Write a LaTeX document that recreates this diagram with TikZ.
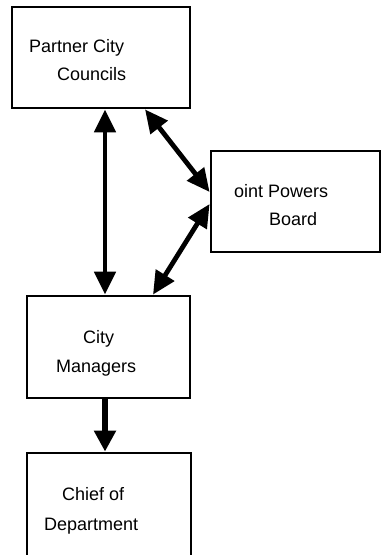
\documentclass[tikz,border=0pt]{standalone}
\usepackage{fontspec}
\setmainfont{Liberation Sans}
\usetikzlibrary{arrows.meta}

\begin{document}
\begin{tikzpicture}[
            x=1pt, y=-1pt,
            box/.style={draw, line width=2.8pt, inner sep=0pt},
            txt/.style={anchor=base west, inner sep=0pt, font=\fontsize{18}{21}\selectfont},
            link/.style={line width=4.8pt, {Triangle[length=23pt,width=21pt]}-{Triangle[length=23pt,width=21pt]}},
            down/.style={line width=6pt, -{Triangle[length=21pt,width=21pt]}},
        ]
            \useasboundingbox (0,0) rectangle (382,555);
            \clip (0,0) rectangle (382,555);
            % the four boxes
            \node [box, minimum width=178pt, minimum height=101pt] (pcc) at (101,57.5) {};
            \node [box, minimum width=169pt, minimum height=101pt] (jpb) at (295.5,201.5) {};
            \node [box, minimum width=163pt, minimum height=102pt] (cm) at (108.5,347) {};
            \node [box, minimum width=164pt, minimum height=122pt] (cd) at (109,514) {};
            % labels, one line each
            \node [txt] (pcc-1) at (29,52) {Partner City};
            \node [txt] (pcc-2) at (57,80) {Councils};
            \node [txt] (jpb-1) at (234,197) {oint Powers};
            \node [txt] (jpb-2) at (269,225) {Board};
            \node [txt] (cm-1) at (83,343) {City};
            \node [txt] (cm-2) at (56,372) {Managers};
            \node [txt] (cd-1) at (62,500) {Chief of};
            \node [txt] (cd-2) at (44,530) {Department};
            % connectors
            \coordinate (vx) at (105,0);
            \draw [link] (pcc.south -| vx) -- (cm.north -| vx);
            \draw [link] ([xshift=44pt]pcc.south) -- ([yshift=9.5pt]jpb.west);
            \draw [link] ([yshift=-2.5pt]jpb.west) -- ([xshift=44.5pt]cm.north);
            \draw [down] (cm.south -| vx) -- (cd.north -| vx);
        \end{tikzpicture}
\end{document}
